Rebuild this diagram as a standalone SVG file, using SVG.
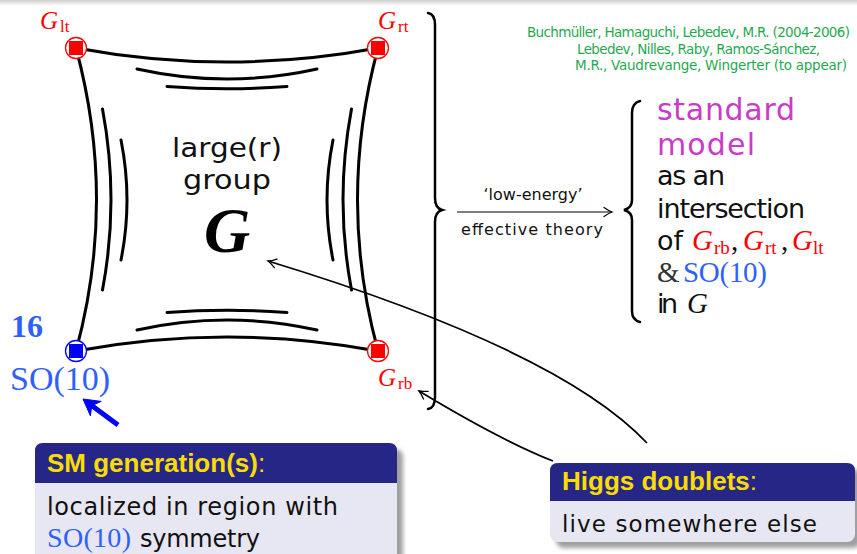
<svg xmlns="http://www.w3.org/2000/svg" width="857" height="554" viewBox="0 0 857 554">
<defs>
<linearGradient id="topbar" x1="0" y1="0" x2="0" y2="1">
<stop offset="0" stop-color="#cfcfcf"/><stop offset="1" stop-color="#ffffff"/>
</linearGradient>
<filter id="shadow" x="-10%" y="-10%" width="120%" height="130%"><feGaussianBlur stdDeviation="2"/></filter>
<marker id="arr" viewBox="-10 -6 12 12" markerWidth="12" markerHeight="12" refX="0" refY="0" markerUnits="userSpaceOnUse" orient="auto">
<path d="M -8 -4.5 Q -3 -1 0 0 Q -3 1 -8 4.5" fill="none" stroke="#000" stroke-width="1.3" stroke-linecap="round"/>
</marker>
<style>
.edge{fill:none;stroke:#000;stroke-width:3;stroke-linecap:round}
.brace{fill:none;stroke:#000;stroke-width:2.5;stroke-linecap:round}
.thin{fill:none;stroke:#000;stroke-width:1.8}
.sans{font-family:"DejaVu Sans",sans-serif}
.serif{font-family:"Liberation Serif","DejaVu Serif",serif}
.red{fill:#ff0000}
.blue{fill:#2f5fff}
.green{fill:#1fa94f;font-size:13.5px}
.mag{fill:#c83cc8;font-size:30px}
.blk{fill:#111;font-size:27px}
.title{font-family:"Liberation Sans",Arial,sans-serif;font-weight:bold;font-size:26px;fill:#f9dc00}
.band{fill:#262686}
.body{fill:#e7e7f3}
</style>
</defs>
<rect x="0" y="0" width="857" height="6" fill="url(#topbar)"/>

<g id="connectors">
<path class="edge" d="M 76 48 Q 227 76 378 48"/>
<path class="edge" d="M 76 351 Q 227 323 378 351"/>
<path class="edge" d="M 76 48 Q 117 200 76 351"/>
<path class="edge" d="M 378 48 Q 337 200 378 351"/>
</g>
<g id="inner-lines">
<path class="edge" d="M 137 69 Q 227 89 317 69"/>
<path class="edge" d="M 167 86.5 Q 227 91 287 86.5"/>
<path class="edge" d="M 137 330 Q 227 310 317 330"/>
<path class="edge" d="M 167 312.5 Q 227 308 287 312.5"/>
<path class="edge" d="M 102.5 109 Q 119.5 200 102.5 290"/>
<path class="edge" d="M 121 140 Q 133 200 121 260"/>
<path class="edge" d="M 351.5 109 Q 334.5 200 351.5 290"/>
<path class="edge" d="M 333 140 Q 321 200 333 260"/>
</g>

<g id="node-lt">
<circle cx="76" cy="48" r="10.5" fill="#fff" stroke="#ff0000" stroke-width="1.3"/>
<rect x="69" y="41" width="14" height="14" fill="#ff0000"/>
<text class="serif red" x="40" y="29" font-size="25" font-style="italic">G</text>
<text class="serif red" x="60" y="32" font-size="17">lt</text>
</g>
<g id="node-rt">
<circle cx="378" cy="48" r="10.5" fill="#fff" stroke="#ff0000" stroke-width="1.3"/>
<rect x="371" y="41" width="14" height="14" fill="#ff0000"/>
<text class="serif red" x="378" y="29" font-size="25" font-style="italic">G</text>
<text class="serif red" x="398" y="32" font-size="17">rt</text>
</g>
<g id="node-lb">
<circle cx="76" cy="351" r="10.5" fill="#fff" stroke="#0000ff" stroke-width="1.3"/>
<rect x="69" y="344" width="14" height="14" fill="#0000ff"/>
<text class="serif blue" x="11" y="337" font-size="32" font-weight="bold">16</text>
<text class="serif blue" x="10" y="390" font-size="34" textLength="100">SO(10)</text>
</g>
<g id="node-rb">
<circle cx="378" cy="351" r="10.5" fill="#fff" stroke="#ff0000" stroke-width="1.3"/>
<rect x="371" y="344" width="14" height="14" fill="#ff0000"/>
<text class="serif red" x="378" y="386" font-size="25" font-style="italic">G</text>
<text class="serif red" x="398" y="389" font-size="17">rb</text>
</g>

<g id="center-label">
<text class="sans" x="227" y="157" font-size="27" textLength="110" lengthAdjust="spacingAndGlyphs" text-anchor="middle" fill="#111">large(r)</text>
<text class="sans" x="227" y="189" font-size="27" textLength="88" lengthAdjust="spacingAndGlyphs" text-anchor="middle" fill="#111">group</text>
<text class="serif" x="227" y="252" font-size="64" font-style="italic" font-weight="bold" text-anchor="middle" fill="#000">G</text>
</g>

<g id="blue-arrow">
<line x1="118" y1="425" x2="91" y2="405" stroke="#0000ff" stroke-width="5"/>
<polygon points="83,399 101.2,401.4 91.8,405.6 90.4,415.8" fill="#0000ff" stroke="#0000ff" stroke-width="1" stroke-linejoin="round"/>
</g>

<g id="big-brace">
<path class="brace" d="M 428 13 Q 435 14 435 25 L 435 198 Q 435 208 442 210 Q 435 212 435 222 L 435 397 Q 435 408 428 409"/>
</g>

<g id="effective-arrow">
<line x1="457" y1="212" x2="612" y2="212" stroke="#000" stroke-width="1" marker-end="url(#arr)"/>
<text class="sans" x="533" y="200" font-size="16" text-anchor="middle" fill="#111">‘low-energy’</text>
<text class="sans" x="461" y="235" font-size="16" textLength="142" fill="#111">effective theory</text>
</g>

<g id="citation">
<text class="sans green" x="527" y="37" textLength="323">Buchmüller, Hamaguchi, Lebedev, M.R. (2004-2006)</text>
<text class="sans green" x="577" y="54" textLength="243">Lebedev, Nilles, Raby, Ramos-Sánchez,</text>
<text class="sans green" x="575" y="70" textLength="272">M.R., Vaudrevange, Wingerter (to appear)</text>
</g>

<g id="standard-model">
<path class="brace" d="M 640 101 Q 632 103 632 113 L 632 200 Q 632 208 624 210 Q 632 212 632 220 L 632 311 Q 632 320 640 322"/>
<text class="sans mag" x="657" y="120" textLength="138">standard</text>
<text class="sans mag" x="657" y="155" textLength="98">model</text>
<text class="sans blk" x="657" y="185" textLength="68">as an</text>
<text class="sans blk" x="657" y="218" textLength="148">intersection</text>
<text class="sans blk" x="657" y="250" textLength="26">of</text>
<text class="serif red" x="692" y="250" font-size="29" font-style="italic">G</text>
<text class="serif red" x="714" y="254" font-size="19">rb</text>
<text class="serif" x="731" y="250" font-size="29" fill="#111">,</text>
<text class="serif red" x="743" y="250" font-size="29" font-style="italic">G</text>
<text class="serif red" x="765" y="254" font-size="19">rt</text>
<text class="serif" x="781" y="250" font-size="29" fill="#111">,</text>
<text class="serif red" x="792" y="250" font-size="29" font-style="italic">G</text>
<text class="serif red" x="813" y="254" font-size="19">lt</text>
<text class="serif" x="657" y="282" font-size="29" fill="#333">&amp;</text>
<text class="serif blue" x="683" y="282" font-size="29" textLength="84">SO(10)</text>
<text class="sans blk" x="657" y="313" textLength="21">in</text>
<text class="serif" x="687" y="313" font-size="29" font-style="italic" fill="#111">G</text>
</g>

<g id="higgs-arrows">
<path class="thin" d="M 647 443 Q 560 350 268 261" marker-end="url(#arr)"/>
<path class="thin" d="M 553 461 Q 500 440 419 391" marker-end="url(#arr)"/>
</g>

<g id="sm-box">
<rect x="41" y="449" width="362" height="130" rx="8" fill="#777" opacity="0.7" filter="url(#shadow)"/>
<rect x="35" y="443" width="362" height="130" rx="8" class="body"/>
<path class="band" d="M 35 483 L 35 451 Q 35 443 43 443 L 389 443 Q 397 443 397 451 L 397 483 Z"/>
<text class="title" x="47" y="472">SM generation(s)<tspan font-weight="normal">:</tspan></text>
<text class="sans" x="47" y="515" font-size="24" textLength="291" fill="#111">localized in region with</text>
<text class="serif blue" x="47" y="547" font-size="28" textLength="84">SO(10)</text>
<text class="sans" x="140" y="547" font-size="24" textLength="120" fill="#111">symmetry</text>
</g>

<g id="higgs-box">
<rect x="556" y="469" width="305" height="79" rx="8" fill="#777" opacity="0.7" filter="url(#shadow)"/>
<rect x="550" y="463" width="305" height="79" rx="8" class="body"/>
<path class="band" d="M 550 501 L 550 471 Q 550 463 558 463 L 847 463 Q 855 463 855 471 L 855 501 Z"/>
<text class="title" x="562" y="490" font-size="25.5">Higgs doublets<tspan font-weight="normal">:</tspan></text>
<text class="sans" x="562" y="532" font-size="23" textLength="255" fill="#111">live somewhere else</text>
</g>
</svg>
